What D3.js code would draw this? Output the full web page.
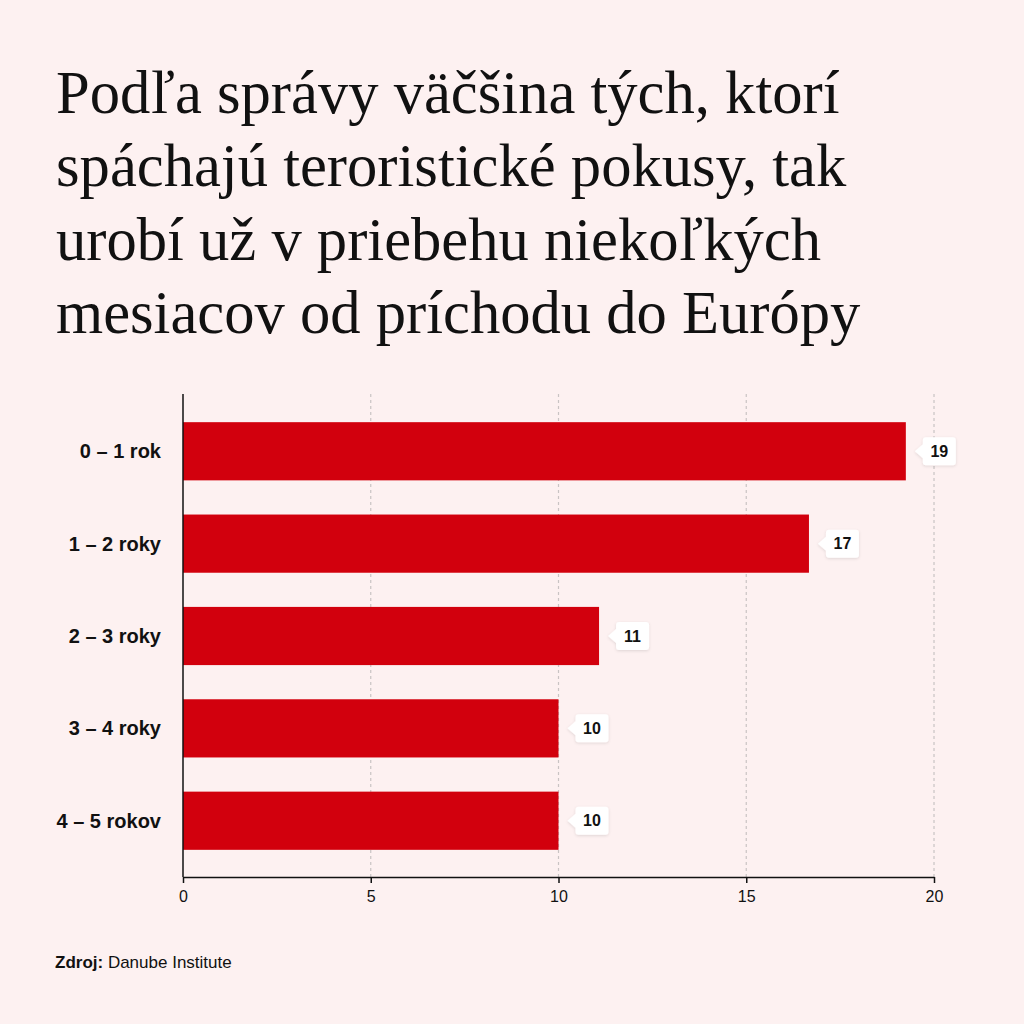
<!DOCTYPE html>
<html>
<head>
<meta charset="utf-8">
<script src="https://cdn.jsdelivr.net/npm/d3@7"></script>
<style>
	html, body { margin: 0; padding: 0; background: #fdf1f1; }
	svg { display: block; }
</style>
</head>
<body>
<svg id="chart" width="1024" height="1024"></svg>
<script>

var titleLines = [
	"Podľa správy väčšina tých, ktorí",
	"spáchajú teroristické pokusy, tak",
	"urobí už v priebehu niekoľkých",
	"mesiacov od príchodu do Európy"
];

var categories = ["0 – 1 rok", "1 – 2 roky", "2 – 3 roky", "3 – 4 roky", "4 – 5 rokov"],
	values     = [19.25, 16.67, 11.08, 10, 10],
	labels     = ["19", "17", "11", "10", "10"],
	ticks      = [0, 5, 10, 15, 20];

var data = categories.map((c, i) => ({cat: c, value: values[i], label: labels[i]}));

var svg = d3.select("#chart"),
	margin = {top: 394, bottom: 147, left: 183, right: 90},
	width = +svg.attr("width"),
	height = +svg.attr("height");

svg.append("rect")
	.attr("width", width)
	.attr("height", height)
	.attr("fill", "#fdf1f1");

var defs = svg.append("defs");
var shadow = defs.append("filter")
	.attr("id", "shadow")
	.attr("x", "-30%").attr("y", "-30%")
	.attr("width", "160%").attr("height", "160%");
shadow.append("feDropShadow")
	.attr("dx", 0).attr("dy", 1)
	.attr("stdDeviation", 1.5)
	.attr("flood-color", "#000")
	.attr("flood-opacity", 0.12);

// title
svg.append("g")
	.selectAll("text")
	.data(titleLines)
	.enter().append("text")
		.attr("x", 56)
		.attr("y", (d, i) => 113 + i * 73.3)
		.attr("font-family", "'Liberation Serif', 'Times New Roman', serif")
		.attr("font-size", 60.6)
		.attr("fill", "#111")
		.text(d => d);

var x = d3.scaleLinear()
	.domain([0, 20])
	.range([margin.left, width - margin.right]);

var y = d3.scaleBand()
	.domain(categories)
	.range([388, 884])
	.paddingInner(0.37)
	.paddingOuter(0.37);

var plotTop = margin.top,
	plotBottom = height - margin.bottom;

// grid
svg.append("g")
	.selectAll("line")
	.data(ticks.slice(1))
	.enter().append("line")
		.attr("x1", d => x(d)).attr("x2", d => x(d))
		.attr("y1", plotTop).attr("y2", plotBottom)
		.attr("stroke", "#c9c4c4")
		.attr("stroke-width", 1.2)
		.attr("stroke-dasharray", "3,3");

// bars
svg.append("g")
	.selectAll("rect")
	.data(data)
	.enter().append("rect")
		.attr("x", x(0))
		.attr("y", d => y(d.cat))
		.attr("width", d => x(d.value) - x(0))
		.attr("height", y.bandwidth())
		.attr("fill", "#d2000d");

// x axis
var xAxis = svg.append("g")
	.attr("transform", "translate(0," + plotBottom + ")")
	.call(d3.axisBottom(x).tickValues(ticks).tickSize(6).tickSizeOuter(0).tickPadding(8));
xAxis.select(".domain").attr("stroke", "#111").attr("stroke-width", 1.5);
xAxis.selectAll(".tick line").attr("stroke", "#111").attr("stroke-width", 1.5);
xAxis.selectAll(".tick text")
	.attr("font-family", "'Liberation Sans', Arial, sans-serif")
	.attr("font-size", 16)
	.attr("fill", "#111");

// y axis
svg.append("line")
	.attr("x1", x(0)).attr("x2", x(0))
	.attr("y1", plotTop).attr("y2", plotBottom)
	.attr("stroke", "#111")
	.attr("stroke-width", 1.5);

// category labels
svg.append("g")
	.selectAll("text")
	.data(data)
	.enter().append("text")
		.attr("x", 161)
		.attr("y", d => y(d.cat) + y.bandwidth() / 2)
		.attr("dy", "0.35em")
		.attr("text-anchor", "end")
		.attr("font-family", "'Liberation Sans', Arial, sans-serif")
		.attr("font-weight", "bold")
		.attr("font-size", 20)
		.attr("fill", "#111")
		.text(d => d.cat);

// value labels with pointer boxes
var tag = svg.append("g")
	.selectAll("g")
	.data(data)
	.enter().append("g")
		.attr("transform", d => "translate(" + (x(d.value) + 9) + "," + (y(d.cat) + y.bandwidth() / 2) + ")");

tag.append("path")
	.attr("filter", "url(#shadow)")
	.attr("fill", "#fff")
	.attr("d", "M0,0 L8,-7 L8,-11 Q8,-14 11,-14 L38,-14 Q41,-14 41,-11 L41,11 Q41,14 38,14 L11,14 Q8,14 8,11 L8,7 Z");

tag.append("text")
	.attr("x", 24.5)
	.attr("dy", "0.36em")
	.attr("text-anchor", "middle")
	.attr("font-family", "'Liberation Sans', Arial, sans-serif")
	.attr("font-weight", "bold")
	.attr("font-size", 16)
	.attr("fill", "#111")
	.text(d => d.label);

// source
var src = svg.append("text")
	.attr("x", 55)
	.attr("y", 968)
	.attr("font-family", "'Liberation Sans', Arial, sans-serif")
	.attr("font-size", 17)
	.attr("fill", "#111");
src.append("tspan").attr("font-weight", "bold").text("Zdroj:");
src.append("tspan").text(" Danube Institute");

</script>
</body>
</html>
